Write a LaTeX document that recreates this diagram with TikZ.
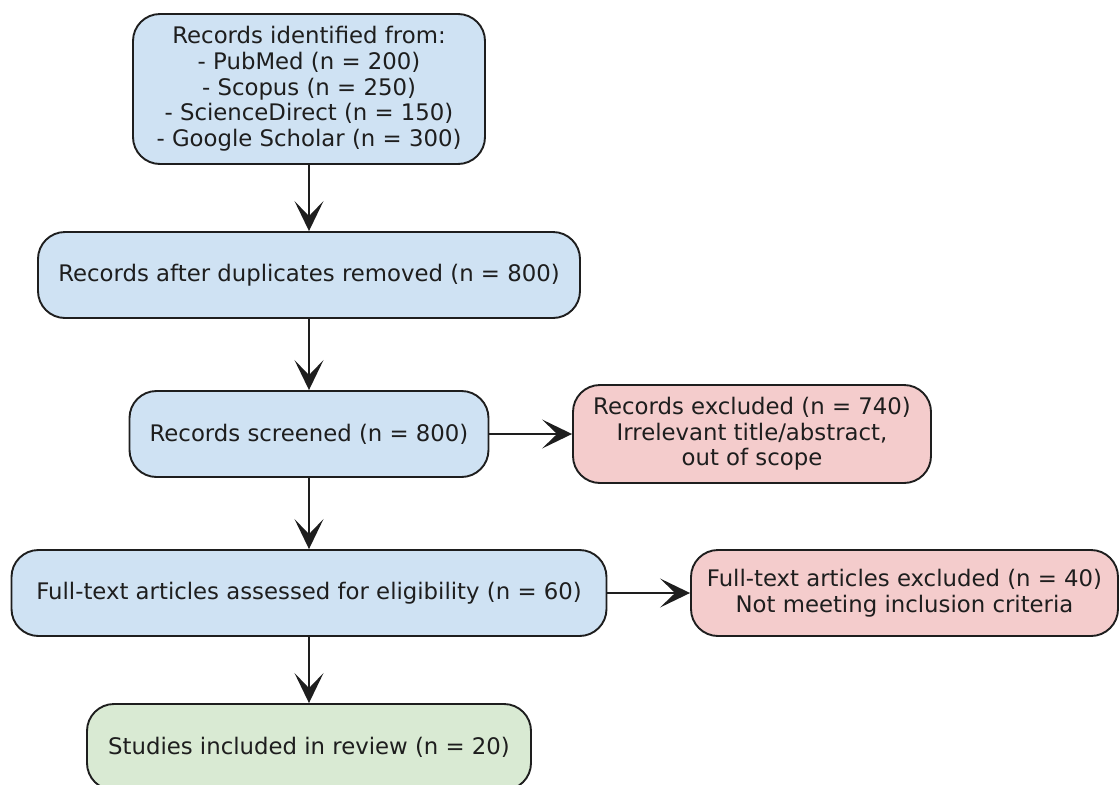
\documentclass[tikz,border=0pt]{standalone}
\usepackage{fontspec}
\setmainfont{DejaVu Sans}
\usetikzlibrary{arrows.meta}
\definecolor{boxblue}{HTML}{CFE2F3}
\definecolor{boxred}{HTML}{F4CCCC}
\definecolor{boxgreen}{HTML}{D9EAD3}
\definecolor{edge}{HTML}{1E1E1E}
\begin{document}
\begin{tikzpicture}[x=1pt,y=-1pt,
  stage/.style={draw=edge, line width=1.9pt, rounded corners=27pt,
    inner sep=0pt, align=center, text=edge,
    font=\fontsize{22.8}{25.7}\selectfont},
  flow/.style={draw=edge, line width=2pt,
    -{Stealth[length=30pt,width=29pt,inset=15pt]}}]
\useasboundingbox (0,0) rectangle (1120,785);
% main column
\node[stage, fill=boxblue, minimum width=352pt, minimum height=150pt] (ident) at (309,89)
  {Records identified from:\\- PubMed (n = 200)\\- Scopus (n = 250)\\- ScienceDirect (n = 150)\\- Google Scholar (n = 300)};
\node[stage, fill=boxblue, minimum width=542pt, minimum height=86pt] (dedup) at (309,275)
  {Records after duplicates removed (n = 800)};
\node[stage, fill=boxblue, minimum width=359pt, minimum height=86pt] (screen) at (309,434)
  {Records screened (n = 800)};
\node[stage, fill=boxblue, minimum width=595pt, minimum height=86pt] (full) at (309,593)
  {Full-text articles assessed for eligibility (n = 60)};
\node[stage, fill=boxgreen, minimum width=444pt, minimum height=86pt] (incl) at (309,747)
  {Studies included in review (n = 20)};
% exclusions
\node[stage, fill=boxred, minimum width=358pt, minimum height=98pt] (excl1) at (752,434)
  {Records excluded (n = 740)\\Irrelevant title/abstract,\\out of scope};
\node[stage, fill=boxred, minimum width=427pt, minimum height=86pt] (excl2) at (904.5,593)
  {Full-text articles excluded (n = 40)\\Not meeting inclusion criteria};
% connectors
\draw[flow] (ident.south) -- (dedup.north);
\draw[flow] (dedup.south) -- (screen.north);
\draw[flow] (screen.south) -- (full.north);
\draw[flow] (full.south) -- (incl.north);
\draw[flow] (screen.east) -- (excl1.west);
\draw[flow] (full.east) -- (excl2.west);
\end{tikzpicture}
\end{document}
